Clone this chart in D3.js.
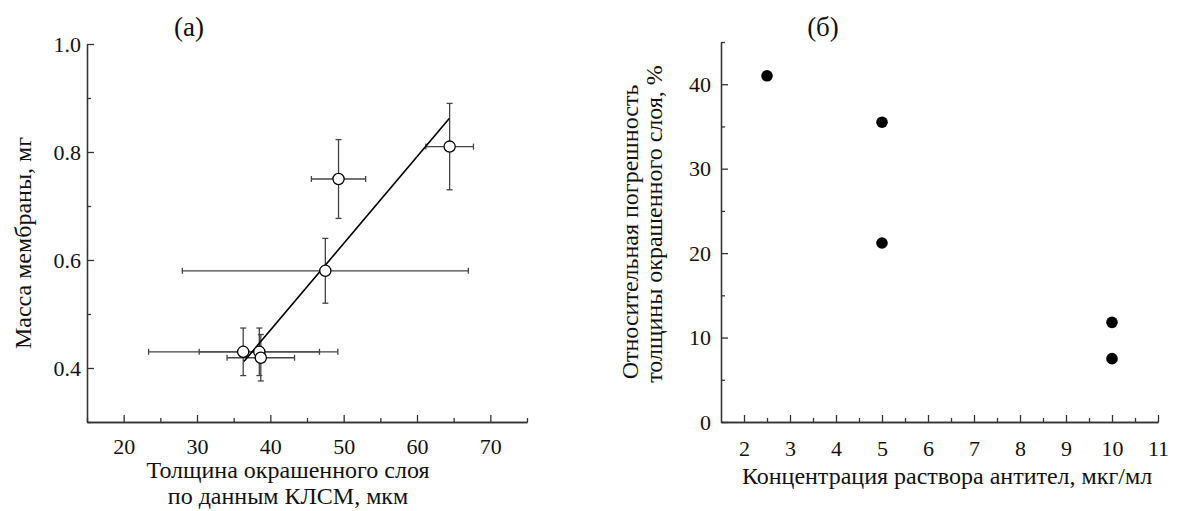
<!DOCTYPE html>
<html>
<head>
<meta charset="utf-8">
<script src="https://cdn.jsdelivr.net/npm/d3@7"></script>
<style>
  body { margin: 0; background: #fff; }
  svg, svg text, .axis text { font-family: "Liberation Serif", Tinos, "Times New Roman", "DejaVu Serif", serif !important; fill: #111; }
  .axis path, .axis line { stroke: #333; stroke-width: 1.3; }
  .axis text { font-size: 22px; }
</style>
</head>
<body>
<svg id="chart" width="1178" height="511"></svg>
<script>
// панель (а): масса мембраны vs толщина слоя
const thickness = [36.3, 38.5, 38.7, 47.5, 49.3, 64.45]
const mass = [0.43, 0.43, 0.419, 0.58, 0.75, 0.81]
const thicknessErr = [12.9, 8.2, 4.6, 19.5, 3.7, 3.25]
const massErr = [0.044, 0.044, 0.043, 0.06, 0.073, 0.08]
const fitX = [36.4, 64.4]
const fitY = [0.412, 0.862]

const aXMajor = [20, 30, 40, 50, 60, 70]
const aXMinor = [15, 25, 35, 45, 55, 65, 75]
const aYMajor = [0.4, 0.6, 0.8, 1.0]
const aYMinor = [0.3, 0.5, 0.7, 0.9]

// панель (б): погрешность vs концентрация
const conc = [2.5, 5, 5, 10, 10]
const relErr = [41, 35.5, 21.2, 11.8, 7.5]

const bXMajor = [2, 3, 4, 5, 6, 7, 8, 9, 10, 11]
const bXMinor = [2.5, 3.5, 4.5, 5.5, 6.5, 7.5, 8.5, 9.5, 10.5]
const bYMajor = [0, 10, 20, 30, 40]
const bYMinor = [5, 15, 25, 35, 45]

const FONT = '"Liberation Serif", Tinos, "Times New Roman", "DejaVu Serif", serif'
const svg = d3.select('#chart').attr('font-family', FONT)

function drawAxes(g, x, y, xMaj, xMin, yMaj, yMin, xFmt, yFmt, xPad, yPad){
    g.append('g').attr('class','axis')
        .attr('transform',`translate(0,${y.range()[0]})`)
        .call(d3.axisBottom(x).tickValues(xMaj).tickSizeInner(-7).tickSizeOuter(0).tickPadding(xPad).tickFormat(xFmt))
    g.append('g').attr('class','axis')
        .attr('transform',`translate(0,${y.range()[0]})`)
        .call(d3.axisBottom(x).tickValues(xMin).tickSizeInner(-4).tickSizeOuter(0).tickFormat(''))
    g.append('g').attr('class','axis')
        .attr('transform',`translate(${x.range()[0]},0)`)
        .call(d3.axisLeft(y).tickValues(yMaj).tickSizeInner(-7).tickSizeOuter(0).tickPadding(yPad).tickFormat(yFmt))
    g.append('g').attr('class','axis')
        .attr('transform',`translate(${x.range()[0]},0)`)
        .call(d3.axisLeft(y).tickValues(yMin).tickSizeInner(-4).tickSizeOuter(0).tickFormat(''))
    g.selectAll('.axis').attr('font-family', FONT).attr('font-size', 22)
}

// ---- (а)
const xa = d3.scaleLinear().domain([15, 75]).range([87, 527])
const ya = d3.scaleLinear().domain([0.3, 1.0]).range([422, 44])
const ga = svg.append('g')
drawAxes(ga, xa, ya, aXMajor, aXMinor, aYMajor, aYMinor, d3.format('d'), d3.format('.1f'), 16, 6)

const pts = thickness.map((d,i)=>({x:d, y:mass[i], ex:thicknessErr[i], ey:massErr[i]}))
const cap = 3
const eb = ga.append('g').attr('stroke','#444').attr('stroke-width',1.3)
pts.forEach(p=>{
    const cx = xa(p.x), cy = ya(p.y)
    const x0 = xa(p.x-p.ex), x1 = xa(p.x+p.ex)
    const y0 = ya(p.y-p.ey), y1 = ya(p.y+p.ey)
    eb.append('line').attr('x1',x0).attr('x2',x1).attr('y1',cy).attr('y2',cy)
    eb.append('line').attr('x1',x0).attr('x2',x0).attr('y1',cy-cap).attr('y2',cy+cap)
    eb.append('line').attr('x1',x1).attr('x2',x1).attr('y1',cy-cap).attr('y2',cy+cap)
    eb.append('line').attr('x1',cx).attr('x2',cx).attr('y1',y0).attr('y2',y1)
    eb.append('line').attr('x1',cx-cap).attr('x2',cx+cap).attr('y1',y0).attr('y2',y0)
    eb.append('line').attr('x1',cx-cap).attr('x2',cx+cap).attr('y1',y1).attr('y2',y1)
})

ga.append('line')
    .attr('x1',xa(fitX[0])).attr('y1',ya(fitY[0]))
    .attr('x2',xa(fitX[1])).attr('y2',ya(fitY[1]))
    .attr('stroke','#000').attr('stroke-width',1.6)

ga.selectAll('circle.pt').data(pts).enter().append('circle')
    .attr('class','pt')
    .attr('cx',d=>xa(d.x)).attr('cy',d=>ya(d.y)).attr('r',5.6)
    .attr('fill','#fff').attr('stroke','#000').attr('stroke-width',1.3)

ga.append('text').attr('x',189).attr('y',36).attr('text-anchor','middle')
    .style('font-size','27px').text('(а)')
ga.append('text').attr('x',288).attr('y',478).attr('text-anchor','middle')
    .style('font-size','24px').text('Толщина окрашенного слоя')
ga.append('text').attr('x',288).attr('y',504).attr('text-anchor','middle')
    .style('font-size','24px').text('по данным КЛСМ, мкм')
ga.append('text').attr('transform','translate(31,243) rotate(-90)').attr('text-anchor','middle')
    .style('font-size','24px').text('Масса мембраны, мг')

// ---- (б)
const xb = d3.scaleLinear().domain([1.5, 11]).range([721, 1158])
const yb = d3.scaleLinear().domain([0, 45]).range([422, 42])
const gb = svg.append('g')
drawAxes(gb, xb, yb, bXMajor, bXMinor, bYMajor, bYMinor, d3.format('d'), d3.format('d'), 18, 10)

gb.selectAll('circle.dot').data(conc).enter().append('circle')
    .attr('class','dot')
    .attr('cx',d=>xb(d)).attr('cy',(d,i)=>yb(relErr[i])).attr('r',5.8)
    .attr('fill','#000')

gb.append('text').attr('x',823).attr('y',36).attr('text-anchor','middle')
    .style('font-size','27px').text('(б)')
gb.append('text').attr('x',947).attr('y',484).attr('text-anchor','middle')
    .style('font-size','24px').text('Концентрация раствора антител, мкг/мл')
gb.append('text').attr('transform','translate(638,232) rotate(-90)').attr('text-anchor','middle')
    .style('font-size','24px').text('Относительная погрешность')
gb.append('text').attr('transform','translate(662,224) rotate(-90)').attr('text-anchor','middle')
    .style('font-size','24px').text('толщины окрашенного слоя, %')
</script>
</body>
</html>
